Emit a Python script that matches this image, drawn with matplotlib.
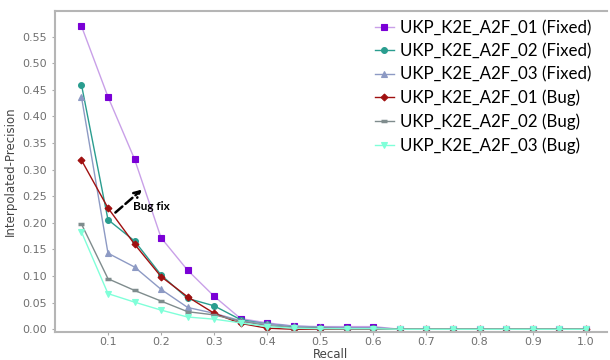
import matplotlib
matplotlib.use("Agg")
import matplotlib.pyplot as plt

recall = [0.05, 0.1, 0.15, 0.2, 0.25, 0.3, 0.35, 0.4, 0.45, 0.5, 0.55, 0.6,
          0.65, 0.7, 0.75, 0.8, 0.85, 0.9, 0.95, 1.0]

fixed_01 = [0.570, 0.437, 0.320, 0.172, 0.111, 0.062, 0.020, 0.012, 0.006, 0.005, 0.005, 0.005,
            0.0, 0.0, 0.0, 0.0, 0.0, 0.0, 0.0, 0.0]
fixed_02 = [0.460, 0.206, 0.166, 0.102, 0.058, 0.044, 0.018, 0.010, 0.005, 0.003, 0.002, 0.002,
            0.0, 0.0, 0.0, 0.0, 0.0, 0.0, 0.0, 0.0]
fixed_03 = [0.437, 0.143, 0.117, 0.075, 0.041, 0.030, 0.016, 0.010, 0.006, 0.004, 0.003, 0.003,
            0.0, 0.0, 0.0, 0.0, 0.0, 0.0, 0.0, 0.0]
bug_01 = [0.318, 0.228, 0.160, 0.099, 0.061, 0.030, 0.011, 0.002, 0.0, 0.0, 0.0, 0.0,
          0.0, 0.0, 0.0, 0.0, 0.0, 0.0, 0.0, 0.0]
bug_02 = [0.198, 0.095, 0.073, 0.053, 0.033, 0.027, 0.015, 0.007, 0.003, 0.002, 0.001, 0.001,
          0.0, 0.0, 0.0, 0.0, 0.0, 0.0, 0.0, 0.0]
bug_03 = [0.183, 0.067, 0.051, 0.036, 0.023, 0.019, 0.012, 0.005, 0.002, 0.001, 0.001, 0.001,
          0.0, 0.0, 0.0, 0.0, 0.0, 0.0, 0.0, 0.0]

series = [
    ("UKP_K2E_A2F_01 (Fixed)", fixed_01, "#7a00d6", "#c9a0e8", "s", 4.2),
    ("UKP_K2E_A2F_02 (Fixed)", fixed_02, "#2a9d8f", "#2a9d8f", "o", 4.2),
    ("UKP_K2E_A2F_03 (Fixed)", fixed_03, "#8d9ac4", "#8d9ac4", "^", 4.5),
    ("UKP_K2E_A2F_01 (Bug)", bug_01, "#a01010", "#a01010", "D", 3.5),
    ("UKP_K2E_A2F_02 (Bug)", bug_02, "#7f8c8d", "#7f8c8d", "_", 5),
    ("UKP_K2E_A2F_03 (Bug)", bug_03, "#80ffd9", "#80ffd9", "v", 4.5),
]

fig = plt.figure(figsize=(6.1, 3.6), dpi=100)
ax = fig.add_axes([0.090, 0.078, 0.905, 0.891])

for label, vals, mcol, lcol, mk, ms in series:
    ax.plot(recall, vals, color=lcol, linewidth=1.0, marker=mk, markersize=ms,
            markerfacecolor=mcol, markeredgecolor=mcol,
            markeredgewidth=2.5 if mk == "_" else 0.8, label=label)

ax.set_xlim(0.0, 1.04)
ax.set_ylim(-0.005, 0.598)
ax.set_xticks([0.1, 0.2, 0.3, 0.4, 0.5, 0.6, 0.7, 0.8, 0.9, 1.0])
ax.set_yticks([0.0, 0.05, 0.10, 0.15, 0.20, 0.25, 0.30, 0.35, 0.40, 0.45, 0.50, 0.55])
ax.set_yticklabels([f"{v:.2f}" for v in ax.get_yticks()])
ax.tick_params(colors="#aaaaaa", labelcolor="#707070", labelsize=8, length=2)
ax.tick_params(axis="x", pad=1.5)

for side in ["left", "bottom", "top"]:
    ax.spines[side].set_color("#b5b5b5")
    ax.spines[side].set_linewidth(1.5)
ax.spines["right"].set_visible(False)

ax.set_xlabel("Recall", fontsize=8.5, color="#444444")
ax.xaxis.set_label_coords(0.5, -0.05)
ax.set_ylabel("Interpolated-Precision", fontsize=8.5, color="#444444")
ax.yaxis.set_label_coords(-0.068, 0.5)

ax.annotate("", xy=(0.168, 0.266), xytext=(0.11, 0.216),
            arrowprops=dict(arrowstyle="->", linestyle="--", color="black", lw=1.8,
                            mutation_scale=11))
ax.text(0.148, 0.231, "Bug fix", fontsize=8.5, fontweight="bold", family="Lato", color="black",
        va="center", ha="left")

leg = ax.legend(loc="upper right", bbox_to_anchor=(1.0, 1.02), frameon=False,
                prop={"family": "Lato", "size": 12.2}, handlelength=1.1, handletextpad=0.4,
                labelspacing=0.42)

fig.savefig("out.png", dpi=100)
